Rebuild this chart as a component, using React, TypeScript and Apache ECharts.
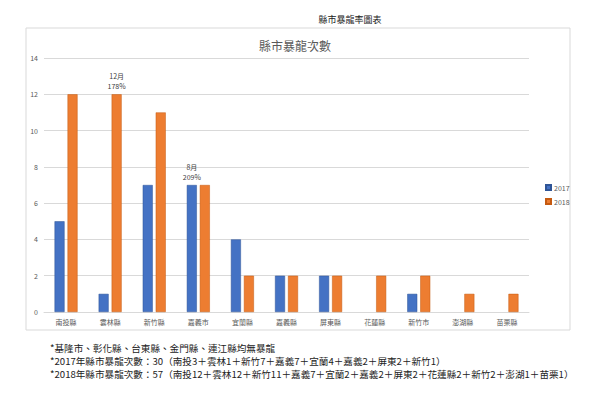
import React, { useEffect, useRef } from "react";
import * as echarts from "echarts";

const categories = ["南投縣", "雲林縣", "新竹縣", "嘉義市", "宜蘭縣", "嘉義縣", "屏東縣", "花蓮縣", "新竹市", "澎湖縣", "苗栗縣"];
const values2017 = [5, 1, 7, 7, 4, 2, 2, 0, 1, 0, 0];
const values2018 = [12, 12, 11, 7, 2, 2, 2, 2, 2, 1, 1];
const seriesNames = ["2017", "2018"];
const yTicks = { min: 0, max: 14, interval: 2 };
const annotations2017: Record<number, string> = { 3: "8月\n209%" };
const annotations2018: Record<number, string> = { 1: "12月\n178%" };
const outerTitle = "縣市暴龍率圖表";
const chartTitle = "縣市暴龍次數";
const footnotes = [
  "*基隆市、彰化縣、台東縣、金門縣、連江縣均無暴龍",
  "*2017年縣市暴龍次數：30（南投3＋雲林1＋新竹7＋嘉義7＋宜蘭4＋嘉義2＋屏東2＋新竹1）",
  "*2018年縣市暴龍次數：57（南投12＋雲林12＋新竹11＋嘉義7＋宜蘭2＋嘉義2＋屏東2＋花蓮縣2＋新竹2＋澎湖1＋苗栗1）",
];

const labelStyle = {
  show: true,
  position: "top" as const,
  fontSize: 7,
  lineHeight: 10,
  color: "#404040",
  distance: 3,
  fontFamily: "Noto Sans CJK TC",
};

function buildData(values: number[], ann: Record<number, string>) {
  return values.map((v, i) => {
    const item: any = { value: v };
    if (ann[i]) item.label = { ...labelStyle, formatter: ann[i] };
    if (v === 0) item.itemStyle = { borderWidth: 0 };
    return item;
  });
}

export default function App() {
  const ref = useRef<HTMLDivElement>(null);
  useEffect(() => {
    if (!ref.current) return;
    const chart = echarts.init(ref.current, undefined, { renderer: "svg" });
    chart.setOption({
      animation: false,
      backgroundColor: "#ffffff",
      textStyle: { fontFamily: "Noto Sans CJK TC" },
      title: [
        {
          text: outerTitle,
          left: 345,
          top: 10,
          textAlign: "center",
          textStyle: { fontSize: 9, fontWeight: "normal", color: "#222", fontFamily: "Noto Sans CJK TC" },
        },
        {
          text: chartTitle,
          left: 290,
          top: 34,
          textAlign: "center",
          textStyle: { fontSize: 12, fontWeight: "normal", color: "#595959", fontFamily: "Noto Sans CJK TC" },
        },
      ],
      legend: {
        data: seriesNames,
        orient: "vertical",
        left: 540,
        top: 179,
        itemWidth: 5,
        itemHeight: 5,
        itemGap: 7,
        icon: "rect",
        textStyle: { fontSize: 7, color: "#595959", padding: [0, 0, 0, -2] },
      },
      grid: { left: 44, right: 71, top: 58, bottom: 102 },
      xAxis: {
        type: "category",
        data: categories,
        axisLine: { lineStyle: { color: "#d9d9d9" } },
        axisTick: { show: false },
        axisLabel: { fontSize: 7, color: "#595959", margin: 6 },
      },
      yAxis: {
        type: "value",
        min: yTicks.min,
        max: yTicks.max,
        interval: yTicks.interval,
        axisLine: { show: false },
        axisTick: { show: false },
        splitLine: { lineStyle: { color: "#d9d9d9", width: 1 } },
        axisLabel: { fontSize: 7, color: "#595959", margin: 6 },
      },
      series: [
        {
          name: seriesNames[0],
          type: "bar",
          data: buildData(values2017, annotations2017),
          barWidth: 10,
          barGap: "30%",
          itemStyle: { color: "#4472C4", borderColor: "#2F5597", borderWidth: 0.5 },
        },
        {
          name: seriesNames[1],
          type: "bar",
          data: buildData(values2018, annotations2018),
          barWidth: 10,
          barGap: "30%",
          itemStyle: { color: "#ED7D31", borderColor: "#C55A11", borderWidth: 0.5 },
        },
      ],
      graphic: [
        {
          type: "rect",
          silent: true,
          z: -1,
          shape: { x: 26, y: 28, width: 544, height: 302 },
          style: { fill: "none", stroke: "#d9d9d9", lineWidth: 1 },
        },
        ...footnotes.map((t, i) => ({
          type: "text",
          left: 50,
          top: 343 + i * 13,
          style: { text: t, fontSize: 9.6, fill: "#222", fontFamily: "Noto Sans CJK TC" },
        })),
      ],
    });
    return () => chart.dispose();
  }, []);
  return (
    <div
      ref={ref}
      style={{ position: "fixed", left: 0, top: 0, width: 600, height: 414 }}
    />
  );
}
